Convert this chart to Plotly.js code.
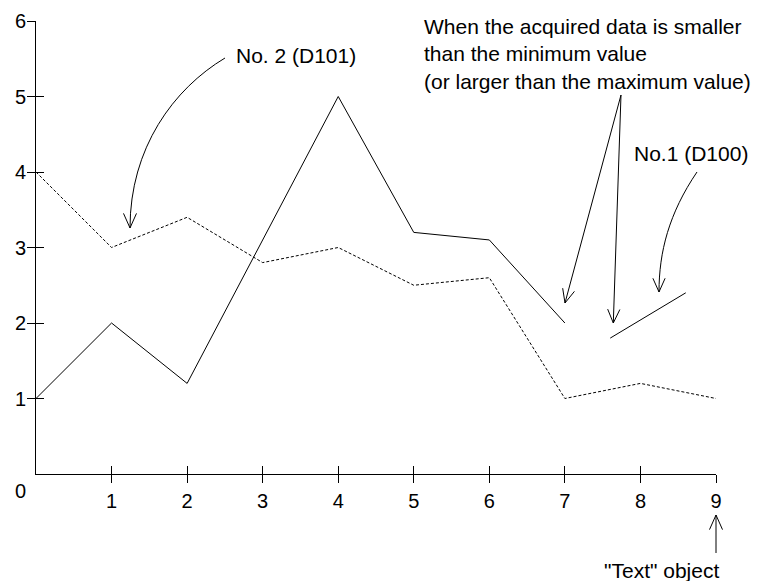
<!DOCTYPE html>
<html>
<head>
<meta charset="utf-8">
<script src="https://cdn.plot.ly/plotly-3.0.1.min.js"></script>
<style>html,body{margin:0;padding:0;background:#fff;} #chart{width:770px;height:581px;}</style>
</head>
<body>
<div id="chart"></div>
<script>
// ---- data ----
const xTicks = [1, 2, 3, 4, 5, 6, 7, 8, 9];
const yTicks = [1, 2, 3, 4, 5, 6];
const d100X = [0, 1, 2, 4, 5, 6, 7];
const d100Y = [1, 2, 1.2, 5, 3.2, 3.1, 2];
const d100OutX = [7.6, 8.6];
const d100OutY = [1.8, 2.4];
const d101X = [0, 1, 2, 3, 4, 5, 6, 7, 8, 9];
const d101Y = [4, 3, 3.4, 2.8, 3, 2.5, 2.6, 1, 1.2, 1];
const labelNo2 = "No. 2 (D101)";
const labelNo1 = "No.1 (D100)";
const noteLines = ["When the acquired data is smaller", "than the minimum value", "(or larger than the maximum value)"];
const labelText = "\"Text\" object";

// ---- layout geometry ----
const W = 770, H = 581;
const M = {l: 36, r: 54, t: 21, b: 107};
const PW = W - M.l - M.r, PH = H - M.t - M.b;
const fx = x => (x - M.l) / PW;
const fy = y => (H - M.b - y) / PH;
const pt = (x, y) => fx(x).toFixed(5) + "," + fy(y).toFixed(5);

function head(tx, ty, fromx, fromy, len, ang) {
  const a = Math.atan2(fromy - ty, fromx - tx);
  const r = ang * Math.PI / 180;
  const p1 = [tx + len * Math.cos(a + r), ty + len * Math.sin(a + r)];
  const p2 = [tx + len * Math.cos(a - r), ty + len * Math.sin(a - r)];
  return "M" + pt(p1[0], p1[1]) + " L" + pt(tx, ty) + " L" + pt(p2[0], p2[1]);
}
const lineStyle = {color: "#000", width: 1};
const shapes = [
  {d: "M" + pt(225, 58) + " C" + pt(173.6, 88.8) + " " + pt(130, 148) + " " + pt(130, 228)},
  {d: head(130, 228, 130, 200, 16, 24)},
  {d: "M" + pt(621, 95) + " L" + pt(565, 303)},
  {d: head(565, 303, 621, 95, 15, 24)},
  {d: "M" + pt(621, 95) + " L" + pt(613.3, 323)},
  {d: head(613.3, 323, 621, 95, 15, 24)},
  {d: "M" + pt(697, 172) + " C" + pt(668.9, 213.4) + " " + pt(659, 252) + " " + pt(659, 292)},
  {d: head(659, 292, 659, 260, 15, 24)},
  {d: "M" + pt(716, 553) + " L" + pt(716, 515)},
  {d: head(716, 515, 716, 553, 16, 24)}
].map(s => ({type: "path", xref: "paper", yref: "paper", path: s.d, line: lineStyle}));

const font = {family: "'Liberation Sans', Arial, sans-serif", size: 21, color: "#000"};
const ann = (text, x, y, xa, size) => ({
  text: text, xref: "paper", yref: "paper", x: fx(x), y: fy(y),
  xanchor: xa || "left", yanchor: "middle", align: "left", showarrow: false,
  font: Object.assign({}, font, size ? {size: size} : {})
});
const annotations = [
  ann(labelNo2, 234, 56),
  ann(noteLines.join("<br>"), 422, 54),
  ann(labelNo1, 632, 153),
  ann(labelText, 602, 570),
  ann("0", 20, 491, "center", 20)
];

const traces = [
  {x: d101X, y: d101Y, type: "scatter", mode: "lines", line: {color: "#000", width: 1, dash: "3px,2px"}, hoverinfo: "skip", showlegend: false},
  {x: d100X, y: d100Y, type: "scatter", mode: "lines", line: {color: "#000", width: 1}, hoverinfo: "skip", showlegend: false},
  {x: d100OutX, y: d100OutY, type: "scatter", mode: "lines", line: {color: "#000", width: 1}, hoverinfo: "skip", showlegend: false},
  {x: [], y: [], xaxis: "x2", yaxis: "y2", type: "scatter", mode: "lines", hoverinfo: "skip", showlegend: false}
];

const tickFont = {family: "'Liberation Sans', Arial, sans-serif", size: 20, color: "#000"};
const baseAx = {showgrid: false, zeroline: false, fixedrange: true, tickcolor: "#000", tickwidth: 1, ticklen: 8};
const layout = {
  width: W, height: H, margin: M,
  paper_bgcolor: "#fff", plot_bgcolor: "#fff",
  showlegend: false,
  xaxis: Object.assign({}, baseAx, {range: [0, 9], tickvals: xTicks, ticktext: xTicks.map(String), ticks: "outside", showline: true, linecolor: "#000", linewidth: 1, tickfont: tickFont, ticklabelstandoff: 1}),
  yaxis: Object.assign({}, baseAx, {range: [0, 6], tickvals: yTicks, ticktext: yTicks.map(String), ticks: "outside", showline: true, linecolor: "#000", linewidth: 1, tickfont: tickFont, ticklabelstandoff: -3}),
  xaxis2: Object.assign({}, baseAx, {range: [0, 9], tickvals: xTicks, ticks: "inside", showticklabels: false, showline: false, overlaying: "x", anchor: "y2", side: "bottom"}),
  yaxis2: Object.assign({}, baseAx, {range: [0, 6], tickvals: yTicks, ticks: "inside", showticklabels: false, showline: false, overlaying: "y", anchor: "x2", side: "left"}),
  shapes: shapes,
  annotations: annotations
};
Plotly.newPlot("chart", traces, layout, {staticPlot: true, displayModeBar: false});
</script>
</body>
</html>
